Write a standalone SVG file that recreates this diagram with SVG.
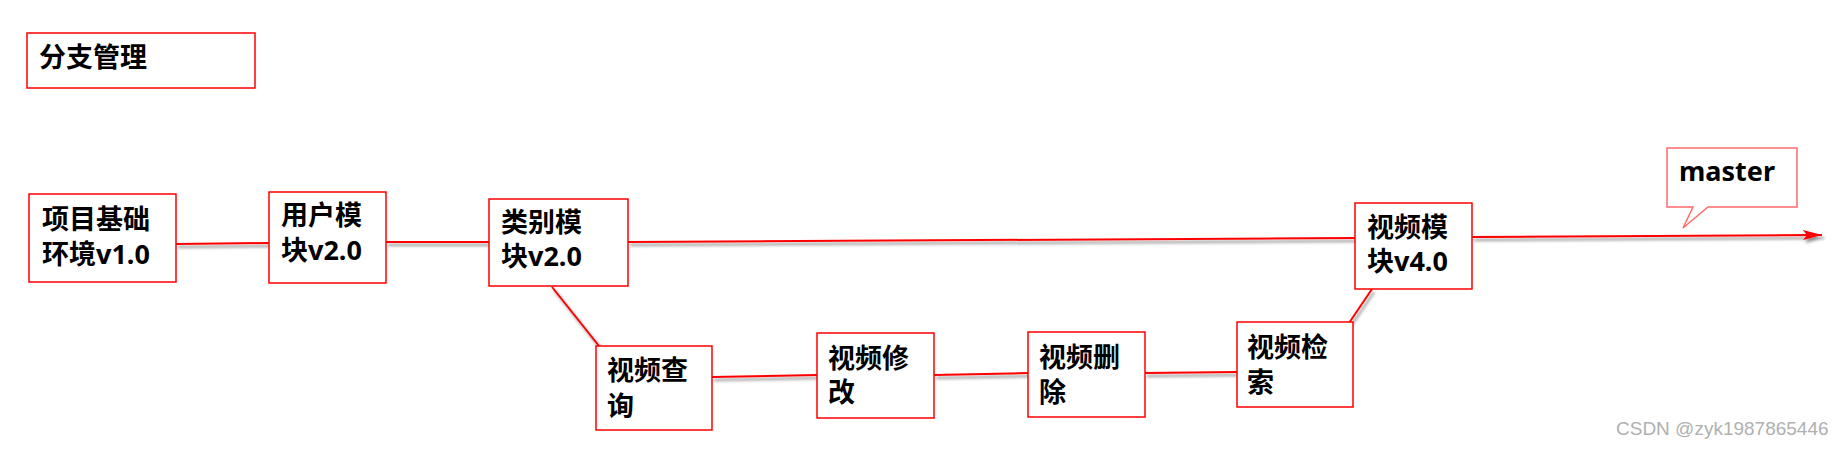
<svg xmlns="http://www.w3.org/2000/svg" width="1842" height="449" viewBox="0 0 1842 449">
<defs>
<style>
.box{fill:#fff;stroke:#ff0000;stroke-width:1.5}
.lbl{font-family:"Noto Sans","Noto Sans CJK SC",sans-serif;font-weight:bold;font-size:27px;fill:#000}
.ln{stroke:#ff0000;stroke-width:2;fill:none}
.wm{font-family:"Liberation Sans",Arial,sans-serif;font-size:19px;fill:#b0b0b0}
</style>
<filter id="sh" x="-5%" y="-50%" width="110%" height="200%">
<feDropShadow dx="2" dy="3" stdDeviation="1.6" flood-color="#000" flood-opacity="0.45"/>
</filter>
<marker id="arr" markerWidth="20" markerHeight="12" refX="19" refY="5" orient="auto" markerUnits="userSpaceOnUse">
<path d="M0,0 L19,5 L0,10 L4,5 Z" fill="#ff0000"/>
</marker>
</defs>
<rect width="1842" height="449" fill="#fff"/>
<g id="connectors" filter="url(#sh)">
<line class="ln" x1="176" y1="244" x2="269" y2="243"/>
<line class="ln" x1="386" y1="242" x2="489" y2="242"/>
<line class="ln" x1="628" y1="242" x2="1355" y2="238"/>
<line class="ln" x1="1472" y1="237" x2="1822" y2="235" marker-end="url(#arr)"/>
<line class="ln" x1="552" y1="287" x2="599" y2="346"/>
<line class="ln" x1="712" y1="377" x2="817" y2="375"/>
<line class="ln" x1="934" y1="375" x2="1028" y2="373"/>
<line class="ln" x1="1145" y1="373" x2="1237" y2="372"/>
<line class="ln" x1="1349" y1="323" x2="1372" y2="289"/>
</g>
<g id="title">
<rect class="box" x="27" y="33" width="228" height="55"/>
<text class="lbl" x="39" y="67">分支管理</text>
</g>
<g id="n1">
<rect class="box" x="29" y="194" width="147" height="88"/>
<text class="lbl" x="42" y="229">项目基础</text>
<text class="lbl" x="42" y="264">环境v1.0</text>
</g>
<g id="n2">
<rect class="box" x="269" y="192" width="117" height="91"/>
<text class="lbl" x="281" y="225">用户模</text>
<text class="lbl" x="281" y="260">块v2.0</text>
</g>
<g id="n3">
<rect class="box" x="489" y="199" width="139" height="87"/>
<text class="lbl" x="501" y="232">类别模</text>
<text class="lbl" x="501" y="266">块v2.0</text>
</g>
<g id="n4">
<rect class="box" x="596" y="346" width="116" height="84"/>
<text class="lbl" x="607" y="380">视频查</text>
<text class="lbl" x="607" y="416">询</text>
</g>
<g id="n5">
<rect class="box" x="817" y="333" width="117" height="85"/>
<text class="lbl" x="828" y="368">视频修</text>
<text class="lbl" x="828" y="402">改</text>
</g>
<g id="n6">
<rect class="box" x="1028" y="332" width="117" height="85"/>
<text class="lbl" x="1039" y="367">视频删</text>
<text class="lbl" x="1039" y="402">除</text>
</g>
<g id="n7">
<rect class="box" x="1237" y="322" width="116" height="85"/>
<text class="lbl" x="1247" y="357">视频检</text>
<text class="lbl" x="1247" y="392">索</text>
</g>
<g id="n8">
<rect class="box" x="1355" y="203" width="117" height="86"/>
<text class="lbl" x="1367" y="237">视频模</text>
<text class="lbl" x="1367" y="271">块v4.0</text>
</g>
<g id="master">
<path d="M1667,148 H1797 V207 H1708 L1683,228 L1693,207 H1667 Z" fill="#fff" stroke="#ff6b6b" stroke-width="1.5"/>
<text class="lbl" x="1679" y="181" font-size="28">master</text>
</g>
<text class="wm" x="1616" y="435">CSDN @zyk1987865446</text>
</svg>
